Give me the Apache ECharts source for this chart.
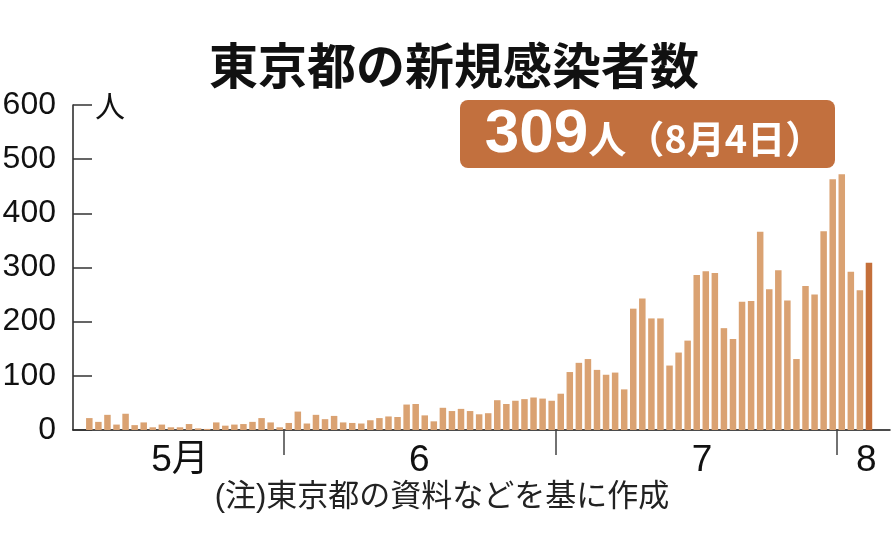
<!DOCTYPE html>
<html><head><meta charset="utf-8">
<script src="https://cdn.jsdelivr.net/npm/echarts@6/dist/echarts.min.js"></script>
<style>html,body{margin:0;padding:0;background:#fff}#c{width:894px;height:558px}</style>
</head><body><div id="c"></div>
<script>
// ---- data ----
const dates = [
  '5/10','5/11','5/12','5/13','5/14','5/15','5/16','5/17','5/18','5/19','5/20','5/21','5/22','5/23','5/24','5/25','5/26','5/27','5/28','5/29','5/30','5/31',
  '6/1','6/2','6/3','6/4','6/5','6/6','6/7','6/8','6/9','6/10','6/11','6/12','6/13','6/14','6/15','6/16','6/17','6/18','6/19','6/20','6/21','6/22','6/23','6/24','6/25','6/26','6/27','6/28','6/29','6/30',
  '7/1','7/2','7/3','7/4','7/5','7/6','7/7','7/8','7/9','7/10','7/11','7/12','7/13','7/14','7/15','7/16','7/17','7/18','7/19','7/20','7/21','7/22','7/23','7/24','7/25','7/26','7/27','7/28','7/29','7/30','7/31',
  '8/1','8/2','8/3','8/4'
];
const cases = [
  22,15,28,10,30,9,14,5,10,5,5,11,3,2,14,8,10,11,15,22,14,5,
  13,34,12,28,20,26,14,13,12,18,22,25,24,47,48,27,16,41,35,39,35,29,31,55,48,54,57,60,58,54,
  67,107,124,131,111,102,106,75,224,243,206,206,119,143,165,286,293,290,188,168,237,238,366,260,295,239,131,266,250,367,463,
  472,292,258,309
];
const monthLabels = ['5月','6','7','8'];
const monthStarts = ['6/1','7/1','8/1'];
const titleText = '東京都の新規感染者数';
const badgeNumber = '309';
const badgeSuffix = '人（8月4日）';
const unitText = '人';
const noteText = '(注)東京都の資料などを基に作成';

// ---- helpers ----
const monthOffset = {5:0, 6:31, 7:61, 8:92};
function dayIndex(s){ const [m,d] = s.split('/').map(Number); return monthOffset[m] + d - 1; }
const tickPos = monthStarts.map(s => dayIndex(s) - 0.5);
const labelPos = [19.0, 45.4, 76.6, 94.7];

const seriesData = cases.map((v,i) => {
  const item = {value:[dayIndex(dates[i]), v]};
  if (i === cases.length - 1) item.itemStyle = {color:'#C46F3A'};
  return item;
});

const chart = echarts.init(document.getElementById('c'), null, {renderer:'canvas'});
chart.setOption({
  backgroundColor:'#ffffff',
  animation:false,
  title:{
    text:titleText, left:204, top:36,
    textStyle:{fontSize:49, fontWeight:'bold', color:'#111', fontFamily:'Noto Sans CJK JP'}
  },
  grid:{left:73, right:4, top:105, bottom:128, containLabel:false, outerBoundsMode:'none'},
  xAxis:{
    type:'value', min:7.2, max:97.32,
    axisLine:{show:true, onZero:false, lineStyle:{color:'#111', width:1.5}},
    axisTick:{show:true, customValues:tickPos, length:25, lineStyle:{color:'#444', width:1.5}},
    axisLabel:{
      customValues:labelPos, margin:12, fontSize:37, color:'#111',
      fontFamily:"'Liberation Sans','Noto Sans CJK JP'",
      formatter:function(v){ const i = labelPos.findIndex(p => Math.abs(p - v) < 0.01); return i >= 0 ? monthLabels[i] : ''; }
    },
    splitLine:{show:false}
  },
  yAxis:{
    type:'value', min:0, max:600, interval:100,
    axisLine:{show:true, onZero:false, lineStyle:{color:'#222', width:1.5}},
    axisTick:{show:true, inside:true, length:19, lineStyle:{color:'#333', width:1.5}},
    axisLabel:{fontSize:32, color:'#111', margin:17, fontFamily:'Liberation Sans'},
    splitLine:{show:false}
  },
  series:[{
    type:'bar', data:seriesData, barWidth:6.5,
    itemStyle:{color:'#DAA272'}
  }],
  graphic:[
    {type:'rect', shape:{x:460, y:100, width:375, height:68, r:8}, style:{fill:'#C2703E'}, z:10},
    {type:'text', x:654, y:135, z:11, style:{
      text:'{a|' + badgeNumber + '}{b|' + badgeSuffix + '}',
      fill:'#ffffff',
      align:'center', verticalAlign:'middle',
      rich:{
        a:{fontSize:62, fill:'#ffffff', fontFamily:'Liberation Sans', fontWeight:'bold'},
        b:{fontSize:38, fill:'#ffffff', fontFamily:"'Noto Sans CJK JP'", fontWeight:'bold', padding:[8,0,0,0]}
      }
    }},
    {type:'text', x:95, y:106, style:{text:unitText, fontSize:30, fill:'#111', fontFamily:'Noto Sans CJK JP', verticalAlign:'middle'}},
    {type:'text', x:442, y:497, style:{text:noteText, fontSize:31, fill:'#222', fontFamily:"'Liberation Sans','Noto Sans CJK JP'", align:'center', verticalAlign:'middle'}}
  ]
});
</script></body></html>
